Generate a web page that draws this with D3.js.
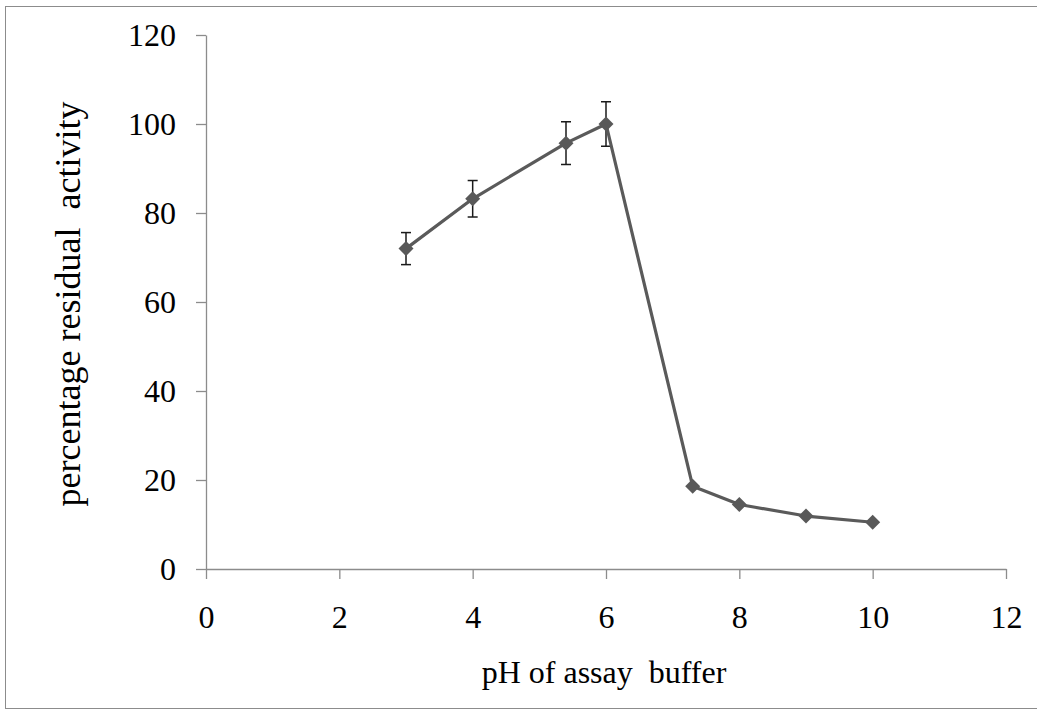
<!DOCTYPE html>
<html>
<head>
<meta charset="utf-8">
<script src="https://cdn.jsdelivr.net/npm/d3@7"></script>
<style>
  html, body { margin: 0; padding: 0; background: #fff; }
  svg { display: block; }
  text { font-family: "Liberation Serif", "Times New Roman", serif; fill: #000; }
</style>
</head>
<body>
<svg id="chart" width="1037" height="709"></svg>
<script>
// pH of assay buffer vs. percentage residual activity
const ph = [3, 4, 5.4, 6, 7.3, 8, 9, 10];
const activity = [72, 83.2, 95.7, 100, 18.6, 14.5, 11.9, 10.5];
const errors = [3.6, 4.1, 4.8, 5, 0, 0, 0, 0];
const xTicks = [0, 2, 4, 6, 8, 10, 12];
const yTicks = [0, 20, 40, 60, 80, 100, 120];

const svg = d3.select("#chart");
const W = 1037, H = 709;

// outer frame
svg.append("rect")
  .attr("x", 5.5).attr("y", 6.5)
  .attr("width", W).attr("height", H - 7)
  .attr("fill", "#fff").attr("stroke", "#8c8c8c").attr("stroke-width", 1);

const x = d3.scaleLinear().domain([0, 12]).range([206, 1006]);
const y = d3.scaleLinear().domain([0, 120]).range([569, 35]);

const axisColor = "#8c8c8c";
const tickFont = 32;

// x axis
const gx = svg.append("g").attr("transform", `translate(0,${y(0)})`)
  .call(d3.axisBottom(x).tickValues(xTicks).tickSize(10).tickSizeOuter(0).tickPadding(26));
gx.select(".domain").attr("stroke", axisColor).attr("stroke-width", 1.3);
gx.selectAll(".tick line").attr("stroke", axisColor).attr("stroke-width", 1.3);
gx.selectAll(".tick text").attr("font-size", tickFont).attr("font-family", "Liberation Serif").attr("fill", "#000");

// y axis
const gy = svg.append("g").attr("transform", `translate(${x(0)},0)`)
  .call(d3.axisLeft(y).tickValues(yTicks).tickSize(10).tickSizeOuter(0).tickPadding(20));
gy.select(".domain").attr("stroke", axisColor).attr("stroke-width", 1.3);
gy.selectAll(".tick line").attr("stroke", axisColor).attr("stroke-width", 1.3);
gy.selectAll(".tick text").attr("font-size", tickFont).attr("font-family", "Liberation Serif").attr("fill", "#000");

// axis titles
svg.append("text")
  .attr("x", 604).attr("y", 683)
  .attr("text-anchor", "middle").attr("font-size", 32)
  .attr("xml:space", "preserve")
  .text("pH of assay  buffer");
svg.append("text")
  .attr("transform", `translate(80,${304}) rotate(-90)`)
  .attr("text-anchor", "middle").attr("font-size", 36)
  .attr("xml:space", "preserve")
  .text("percentage residual  activity");

const pts = ph.map((p, i) => ({ p, v: activity[i], e: errors[i] }));

// error bars
const eb = svg.append("g").attr("stroke", "#1a1a1a").attr("stroke-width", 1.5);
pts.filter(d => d.e > 0).forEach(d => {
  const cx = x(d.p);
  eb.append("line").attr("x1", cx).attr("x2", cx).attr("y1", y(d.v + d.e)).attr("y2", y(d.v - d.e));
  eb.append("line").attr("x1", cx - 5).attr("x2", cx + 5).attr("y1", y(d.v + d.e)).attr("y2", y(d.v + d.e));
  eb.append("line").attr("x1", cx - 5).attr("x2", cx + 5).attr("y1", y(d.v - d.e)).attr("y2", y(d.v - d.e));
});

// line
svg.append("path")
  .datum(pts)
  .attr("fill", "none").attr("stroke", "#5a5a5a").attr("stroke-width", 3.2)
  .attr("stroke-linejoin", "round")
  .attr("d", d3.line().x(d => x(d.p)).y(d => y(d.v)));

// diamond markers
svg.append("g").selectAll("path.m")
  .data(pts).join("path")
  .attr("class", "m")
  .attr("transform", d => `translate(${x(d.p)},${y(d.v)})`)
  .attr("d", "M0,-7.5L7.5,0L0,7.5L-7.5,0Z")
  .attr("fill", "#595959");
</script>
</body>
</html>
